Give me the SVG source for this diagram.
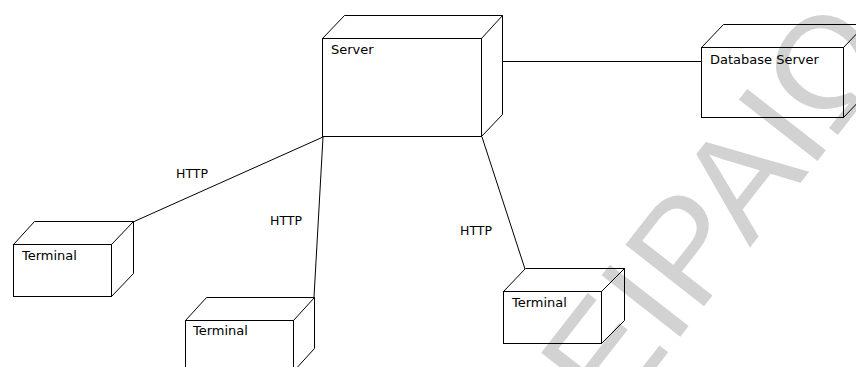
<svg xmlns="http://www.w3.org/2000/svg" width="856" height="367" viewBox="0 0 856 367">
  <style>
    .box { fill: none; stroke: #000; stroke-width: 1; }
    .edge { fill: none; stroke: #000; stroke-width: 1; }
    .label { font-family: "DejaVu Sans", sans-serif; font-size: 13px; fill: #000; }
    .conn { font-family: "DejaVu Sans", sans-serif; font-size: 12.5px; fill: #000; }
    .mark { font-family: "Liberation Sans", Arial, sans-serif; font-size: 145px; fill: #d2d2d2; }
  </style>
  <rect width="856" height="367" fill="#fff"/>

  <!-- background stamp -->
  <g id="stamp">
    <text class="mark" transform="translate(548 506) rotate(-52)">ΠΕΙΡΑΙΩΣ</text>
  </g>

  <!-- links between nodes -->
  <g id="connectors">
    <line class="edge" x1="503" y1="61.5" x2="701" y2="61.5"/>
    <line class="edge" x1="133" y1="222" x2="323" y2="137"/>
    <line class="edge" x1="314" y1="297" x2="323" y2="137"/>
    <line class="edge" x1="482" y1="137" x2="525" y2="269"/>
    <text class="conn" x="176" y="178">HTTP</text>
    <text class="conn" x="270" y="225">HTTP</text>
    <text class="conn" x="460" y="235">HTTP</text>
  </g>

  <g id="server">
    <rect class="box" x="322.5" y="38.5" width="159" height="98"/>
    <path class="box" d="M322.5 38.5 L344.5 15.5 H502.5 V114.5 L481.5 136.5 M481.5 38.5 L502.5 15.5"/>
    <text class="label" x="331" y="54">Server</text>
  </g>

  <g id="database-server">
    <rect class="box" x="701.5" y="47.5" width="142" height="70"/>
    <path class="box" d="M701.5 47.5 L723.5 24.5 H865.5 V94.5 L843.5 117.5 M843.5 47.5 L865.5 24.5"/>
    <text class="label" x="710" y="64">Database Server</text>
  </g>

  <g id="terminal-1">
    <rect class="box" x="13.5" y="244.5" width="98" height="52"/>
    <path class="box" d="M13.5 244.5 L34.5 221.5 H133.5 V273.5 L111.5 296.5 M111.5 244.5 L133.5 221.5"/>
    <text class="label" x="22" y="260">Terminal</text>
  </g>

  <g id="terminal-2">
    <rect class="box" x="185.5" y="320.5" width="108" height="52"/>
    <path class="box" d="M185.5 320.5 L206.5 297.5 H314.5 V348.5 L293.5 371.5 M293.5 320.5 L314.5 297.5"/>
    <text class="label" x="193" y="335">Terminal</text>
  </g>

  <g id="terminal-3">
    <rect class="box" x="503.5" y="291.5" width="98" height="52"/>
    <path class="box" d="M503.5 291.5 L525.5 268.5 H624.5 V320.5 L601.5 343.5 M601.5 291.5 L624.5 268.5"/>
    <text class="label" x="512" y="307">Terminal</text>
  </g>
</svg>
